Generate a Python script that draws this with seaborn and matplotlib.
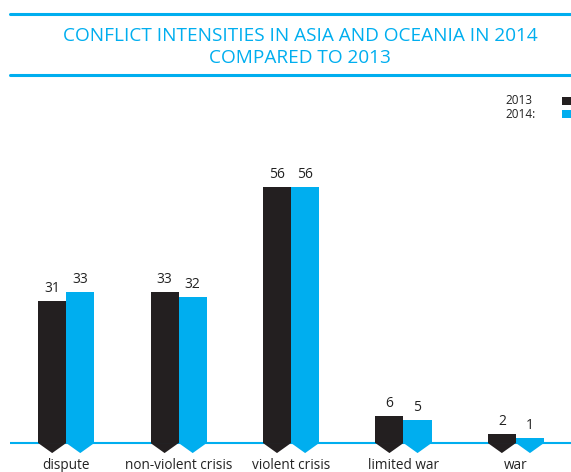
import matplotlib
matplotlib.use("Agg")
import matplotlib.pyplot as plt
from matplotlib.patches import Polygon, Rectangle
from matplotlib.lines import Line2D
import pandas as pd
import seaborn as sns

categories = ["dispute", "non-violent crisis", "violent crisis", "limited war", "war"]
values_2013 = [31, 33, 56, 6, 2]
values_2014 = [33, 32, 56, 5, 1]
years = ["2013", "2014"]

BLACK = "#231f20"
CYAN = "#00aeef"


def main():
    df = pd.DataFrame({
        "category": categories * 2,
        "year": [years[0]] * len(categories) + [years[1]] * len(categories),
        "count": values_2013 + values_2014,
    })

    sns.set_style("white")
    plt.rcParams["font.family"] = ["Open Sans", "DejaVu Sans"]

    fig = plt.figure(figsize=(5.71, 4.72), dpi=100)
    ax = fig.add_axes([10 / 571, 15 / 472, 561 / 571, 357 / 472])

    sns.barplot(data=df, x="category", y="count", hue="year",
                palette=[BLACK, CYAN], width=0.5, ax=ax, linewidth=0,
                saturation=1, legend=False, zorder=3)

    ax.set_xlim(-0.5, 4.49)
    ax.set_ylim(-3.06, 75.05)
    ax.axhline(0, color=CYAN, lw=1.5, zorder=1)

    # pointed bottoms and value labels
    tip = 2.2
    for bar in ax.patches:
        x, w, h = bar.get_x(), bar.get_width(), bar.get_height()
        ax.add_patch(Polygon([(x, 0), (x + w / 2, -tip), (x + w, 0)],
                             closed=True, color=bar.get_facecolor(),
                             lw=0, zorder=3))
        ax.text(x + w / 2, h + 1.1, f"{h:.0f}", ha="center", va="bottom",
                fontsize=10, color="#222222")

    ax.set_xlabel("")
    ax.set_ylabel("")
    ax.set_yticks([])
    ax.tick_params(axis="x", length=0, pad=1, labelsize=9.8, labelcolor="#222222")
    sns.despine(ax=ax, left=True, bottom=True)

    # title with rules
    fig.add_artist(Line2D([10 / 571, 1], [1 - 14 / 472] * 2, color=CYAN, lw=2.2))
    fig.add_artist(Line2D([10 / 571, 1], [1 - 75 / 472] * 2, color=CYAN, lw=2.2))
    fig.text(300 / 571, 1 - 47 / 472,
             "CONFLICT INTENSITIES IN ASIA AND OCEANIA IN 2014\nCOMPARED TO 2013",
             ha="center", va="center", color=CYAN, fontsize=13.7,
             linespacing=1.3)

    # legend
    for i, (lab, col) in enumerate([("2013", BLACK), ("2014:", CYAN)]):
        yc = 1 - (101 + i * 13) / 472
        fig.text(505 / 571, yc, lab, ha="left", va="center",
                 fontsize=8.5, color="#222222")
        fig.add_artist(Rectangle((562 / 571, yc - 4 / 472), 9 / 571, 8 / 472,
                                 transform=fig.transFigure, color=col, lw=0))

    fig.savefig("out.png", dpi=100)


if __name__ == "__main__":
    main()
